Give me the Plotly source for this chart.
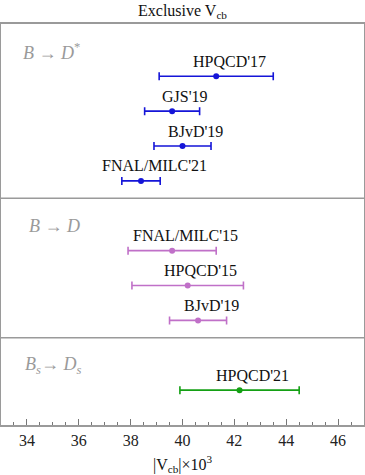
import plotly.graph_objects as go

# ---- data ----
groups = ["B → D*", "B → D", "Bs → Ds"]
group_labels_html = ["<i>B</i> → <i>D</i><sup>*</sup>", "<i>B</i> → <i>D</i>", "<i>B<sub>s</sub></i>→ <i>D<sub>s</sub></i>"]
group_colors = ["#1515d8", "#c070c8", "#14a014"]

labels_dstar = ["HPQCD'17", "GJS'19", "BJvD'19", "FNAL/MILC'21"]
vals_dstar = [41.3, 39.6, 40.0, 38.4]
errs_dstar = [2.2, 1.06, 1.1, 0.74]

labels_d = ["FNAL/MILC'15", "HPQCD'15", "BJvD'19"]
vals_d = [39.6, 40.2, 40.6]
errs_d = [1.7, 2.15, 1.1]

labels_ds = ["HPQCD'21"]
vals_ds = [42.2]
errs_ds = [2.3]

tick_vals = [34, 36, 38, 40, 42, 44, 46]

all_labels = [labels_dstar, labels_d, labels_ds]
all_vals = [vals_dstar, vals_d, vals_ds]
all_errs = [errs_dstar, errs_d, errs_ds]

FONT = "Liberation Serif"
group_label_x = [0.055, 0.072, 0.06]

fig = go.Figure()
annotations = []
shapes = []
cursor = 0.0
for gi in range(len(groups)):
    labs, vals, errs = all_labels[gi], all_vals[gi], all_errs[gi]
    ys = [cursor + 1.5 + i for i in range(len(vals))]
    fig.add_trace(go.Scatter(
        x=vals, y=ys, mode="markers",
        marker=dict(color=group_colors[gi], size=6),
        error_x=dict(type="data", array=errs, visible=True,
                     color=group_colors[gi], thickness=1.6, width=4),
        showlegend=False, hoverinfo="skip"))
    for lab, v, y in zip(labs, vals, ys):
        annotations.append(dict(x=v, y=y, text=lab, showarrow=False,
                                xshift=13, yshift=15, xanchor="center", yanchor="middle",
                                font=dict(family=FONT, size=16, color="#111")))
    annotations.append(dict(x=group_label_x[gi], xref="paper", y=cursor + 0.8, yref="y",
                            text=group_labels_html[gi], showarrow=False,
                            xanchor="left", yanchor="middle",
                            font=dict(family=FONT, size=18, color="#9a9a9a")))
    cursor = cursor + 1 + len(vals)
    if gi < len(groups) - 1:
        shapes.append(dict(type="line", xref="paper", x0=0, x1=1, yref="y", y0=cursor, y1=cursor,
                           line=dict(color="#9a9a9a", width=1.5)))
ymax = cursor + 0.5

fig.update_layout(
    width=365, height=475,
    margin=dict(l=1, r=1, t=24, b=50),
    plot_bgcolor="white", paper_bgcolor="white",
    title=dict(text="Exclusive V<sub>cb</sub>", x=0.5, xanchor="center",
               yref="container", y=1 - 10 / 475, yanchor="middle",
               font=dict(family=FONT, size=16, color="#111")),
    annotations=annotations, shapes=shapes,
    font=dict(family=FONT, color="#111"),
)
fig.update_xaxes(range=[33, 47], tickvals=tick_vals, ticks="inside", ticklen=6,
                 tickcolor="#777", showgrid=False, zeroline=False, automargin=False,
                 showline=True, linecolor="#9a9a9a", linewidth=1.5, mirror=True,
                 minor=dict(dtick=0.5, ticks="inside", ticklen=3, tickcolor="#777"),
                 tickfont=dict(family=FONT, size=16, color="#222"),
                 title=dict(text="|V<sub>cb</sub>|×10<sup>3</sup>", standoff=18,
                            font=dict(family=FONT, size=16, color="#111")))
fig.update_yaxes(range=[ymax, 0], showticklabels=False, ticks="", showgrid=False,
                 zeroline=False, automargin=False,
                 showline=True, linecolor="#9a9a9a", linewidth=1.5, mirror=True)

fig.write_html("out.html", config={"displayModeBar": False},
               post_script="document.body.style.margin='0';document.body.style.overflow='hidden';")
